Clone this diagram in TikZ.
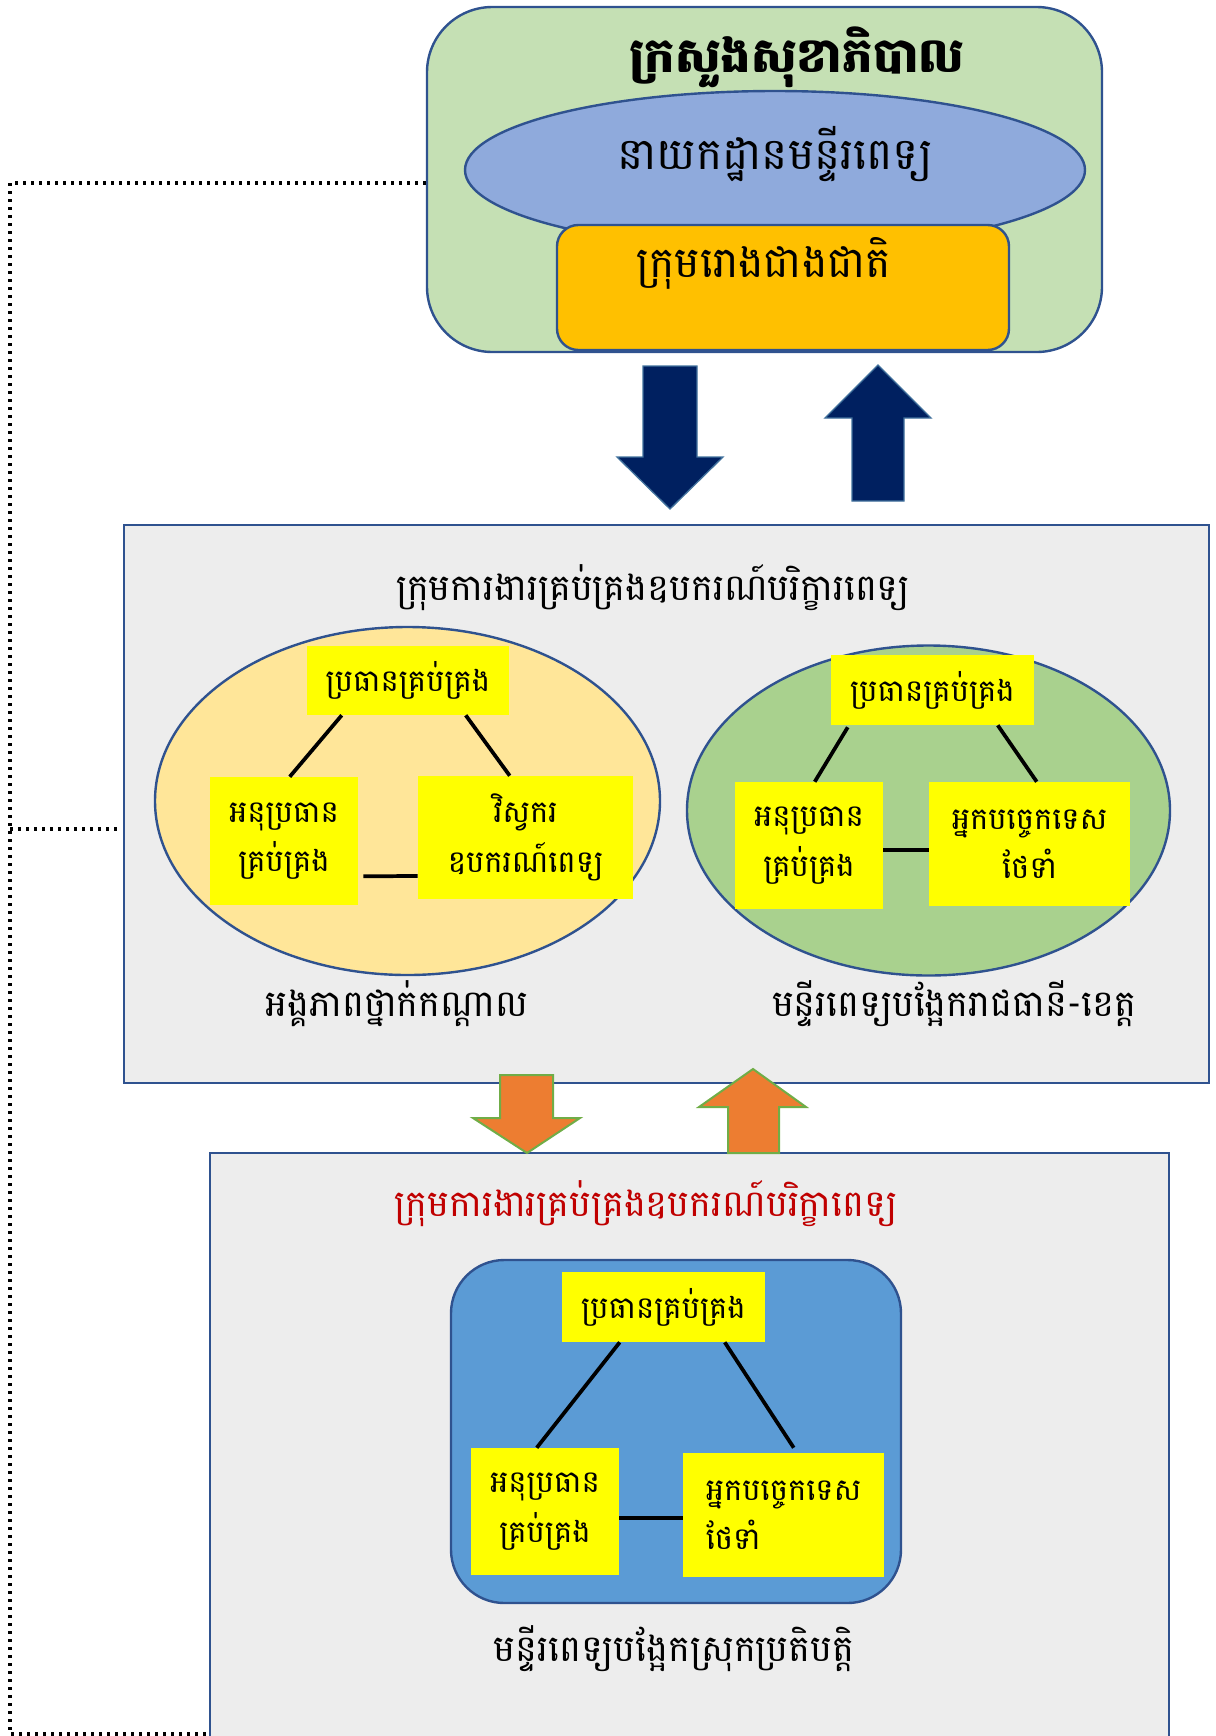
\documentclass[tikz,border=0pt]{standalone}
\usepackage{fontspec}
\newfontfamily\khmer[Script=Khmer]{Battambang}
\usetikzlibrary{calc,shapes.geometric}
\definecolor{gfill}{HTML}{C5E0B4}
\definecolor{edgec}{HTML}{2F528F}
\definecolor{efill}{HTML}{8FAADC}
\definecolor{ofill}{HTML}{FFC000}
\definecolor{navy}{HTML}{002060}
\definecolor{navyedge}{HTML}{41719C}
\definecolor{grayfill}{HTML}{EDEDED}
\definecolor{lell}{HTML}{FFE699}
\definecolor{rell}{HTML}{A9D18E}
\definecolor{yb}{HTML}{FFFF00}
\definecolor{bfill}{HTML}{5B9BD5}
\definecolor{orarrow}{HTML}{ED7D31}
\definecolor{grnedge}{HTML}{70AD47}
\definecolor{redtxt}{HTML}{C00000}
\newcommand\boxfont{\khmer\fontsize{23}{37}\selectfont}
\newcommand\lblfont{\khmer\fontsize{27.5}{34}\selectfont}
\newcommand\bigfont{\khmer\fontsize{33}{40}\selectfont}
\newcommand\titfont{\khmer\bfseries\fontsize{36}{44}\selectfont}
\newcommand\orfont{\khmer\fontsize{32}{40}\selectfont}
\tikzset{
  sz/.style 2 args={minimum width=#1*0.75pt, minimum height=#2*0.75pt, inner sep=0pt},
  outl/.style={draw=edgec, line width=1.8pt},
  ybox/.style={fill=yb, align=center, font=\boxfont},
  link/.style={line width=2.8pt, black},
  lbl/.style={font=\lblfont, anchor=base, inner sep=0pt},
  dots/.style={line width=2.4pt, dash pattern=on 2.4pt off 3.6pt},
  navyarrow/.style={fill=navy, draw=navyedge, line width=1pt},
  orarrowst/.style={fill=orarrow, draw=grnedge, line width=1.5pt}
}
\begin{document}
\begin{tikzpicture}[x=0.75pt,y=-0.75pt]
\useasboundingbox (0,0) rectangle (1216,1736);
\clip (0,0) rectangle (1216,1736);
% top block
\node[sz={675}{345}, outl, fill=gfill, rounded corners=49pt] (G) at (764.5,179.5) {};
\node[font=\titfont, anchor=base, inner sep=0pt] (title) at (797,72) {ក្រសួងសុខាភិបាល};
\node[ellipse, sz={620}{158}, outl, fill=efill] (E) at (775,170) {};
\node[font=\bigfont, anchor=base, inner sep=0pt] (etxt) at (775,169) {នាយកដ្ឋានមន្ទីរពេទ្យ};
\node[sz={452}{125}, outl, fill=ofill, rounded corners=16pt] (O) at (783,287.5) {};
\node[font=\orfont, anchor=base, inner sep=0pt] (otxt) at (764,277) {ក្រុមរោងជាងជាតិ};
% navy arrows
\draw[navyarrow] (643,366) -- (697,366) -- (697,457) -- (723,457) -- (670,509) -- (617,457) -- (643,457) -- cycle;
\draw[navyarrow] (878,365) -- (931,418) -- (904,418) -- (904,501) -- (852,501) -- (852,418) -- (825,418) -- cycle;
% middle block
\node[sz={1085}{558}, outl, fill=grayfill] (B1) at (666.5,804) {};
\node[lbl] (b1t) at (653,600) {ក្រុមការងារគ្រប់គ្រងឧបករណ៍បរិក្ខារពេទ្យ};
\node[ellipse, sz={505}{348}, outl, fill=lell] (LE) at (407.5,801) {};
\node[ellipse, sz={483}{330}, outl, fill=rell] (RE) at (928.5,810.5) {};
\node[ybox, sz={202}{69}] (LT) at (408,680.5) {ប្រធានគ្រប់គ្រង};
\node[ybox, sz={148}{128}] (LL) at (284,841) {អនុប្រធាន\\គ្រប់គ្រង};
\node[ybox, sz={215}{123}] (LR) at (525.5,837.5) {វិស្វករ\\ឧបករណ៍ពេទ្យ};
\node[ybox, sz={203}{70}] (RT) at (932.5,690) {ប្រធានគ្រប់គ្រង};
\node[ybox, sz={148}{127}] (RL) at (809,845.5) {អនុប្រធាន\\គ្រប់គ្រង};
\node[ybox, sz={201}{124}] (RR) at (1029.5,844) {អ្នកបច្ចេកទេស\\ថែទាំ};
\draw[link] ($(LT.south west)+(35,0)$) -- ($(LL.north west)+(80,0)$);
\draw[link] ($(LT.south west)+(159,0)$) -- ($(LR.north west)+(92,0)$);
\draw[link] ($(LL.south east)+(5,-29)$) -- ($(LR.west)+(0,38.5)$);
\draw[link] ($(RT.south west)+(17,2)$) -- ($(RL.north west)+(80,0)$);
\draw[link] ($(RT.south west)+(167,0)$) -- ($(RR.north west)+(108,0)$);
\draw[link] ($(RL.east)+(0,4.5)$) -- ($(RR.west)+(0,6)$);
\node[lbl] (llbl) at (397,1016) {អង្គភាពថ្នាក់កណ្តាល};
\node[lbl] (rlbl) at (954,1016) {មន្ទីរពេទ្យបង្អែករាជធានី-ខេត្ត};
% bottom block
\node[sz={959}{627}, outl, fill=grayfill] (B2) at (689.5,1466.5) {};
\draw[orarrowst] (500,1075) -- (553,1075) -- (553,1118) -- (580,1118) -- (527,1153) -- (473,1118) -- (500,1118) -- cycle;
\draw[orarrowst] (753,1069) -- (806,1107) -- (779,1107) -- (779,1153) -- (728,1153) -- (728,1107) -- (699,1107) -- cycle;
\node[lbl, text=redtxt] (b2t) at (646,1216) {ក្រុមការងារគ្រប់គ្រងឧបករណ៍បរិក្ខាពេទ្យ};
\node[sz={450}{343}, outl, fill=bfill, rounded corners=40pt] (BB) at (676,1431.5) {};
\node[ybox, sz={203}{70}] (BT) at (663.5,1307) {ប្រធានគ្រប់គ្រង};
\node[ybox, sz={148}{127}] (BL) at (545,1511.5) {អនុប្រធាន\\គ្រប់គ្រង};
\node[ybox, align=left, sz={201}{124}] (BR) at (783.5,1515) {អ្នកបច្ចេកទេស\\ថែទាំ};
\draw[link] ($(BT.south west)+(58,0)$) -- ($(BL.north west)+(66,0)$);
\draw[link] ($(BT.south west)+(163,0)$) -- ($(BR.north west)+(111,-5)$);
\draw[link] ($(BL.east)+(0,6.5)$) -- ($(BR.west)+(0,3)$);
\node[lbl] (blbl) at (674,1661) {មន្ទីរពេទ្យបង្អែកស្រុកប្រតិបត្តិ};
% dotted links
\coordinate (dTop) at (10,183);
\coordinate (dMid) at (10,829);
\coordinate (dMidEnd) at (117,829);
\coordinate (dBot) at (10,1734);
\draw[dots] (G.west |- dTop) -- (dTop) -- (dBot) -- (B2.west |- dBot);
\draw[dots] (dMid) -- (dMidEnd);
\end{tikzpicture}
\end{document}
